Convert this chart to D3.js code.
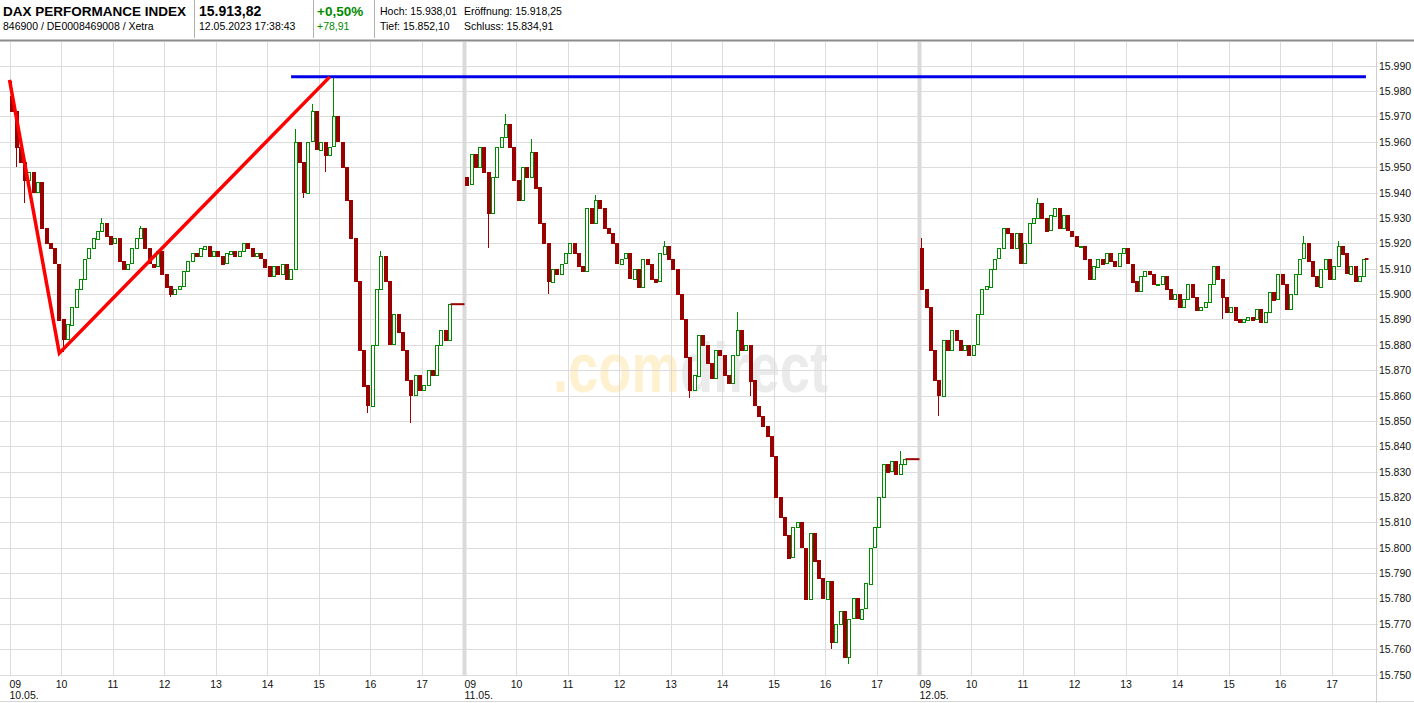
<!DOCTYPE html>
<html><head><meta charset="utf-8">
<script src="https://cdn.jsdelivr.net/npm/d3@7"></script>
<style>
body{margin:0;background:#fff;}
svg{display:block;font-family:"Liberation Sans",Arial,sans-serif;}
</style>
</head><body>
<svg id="c" width="1414" height="703"></svg>
<script>
// ---------- DATA ----------
const dayLabels = ["10.05.", "11.05.", "12.05."];
const hourLabels = ["09", "10", "11", "12", "13", "14", "15", "16", "17"];
const yTickValues = [15750,15760,15770,15780,15790,15800,15810,15820,15830,15840,15850,15860,15870,15880,15890,15900,15910,15920,15930,15940,15950,15960,15970,15980,15990];

const dayOpens = [15978, 15946, 15918.25];
// 5-minute candle closes from 09:00
const closesDay1 = [15972,15958,15952,15945,15948,15940,15944,15926,15920,15918,15912,15890,15882,15888,15895,15902,15906,15914,15918,15922,15925,15928,15923,15920,15922,15913,15910,15912,15918,15922,15926,15918,15912,15911,15917,15908,15903,15900,15902,15903,15909,15913,15916,15915,15918,15919,15915,15917,15915,15912,15916,15917,15915,15917,15920,15918,15915,15916,15914,15911,15907,15911,15908,15912,15906,15910,15960,15952,15940,15960,15972,15957,15960,15955,15958,15970,15960,15950,15937,15922,15905,15878,15864,15856,15880,15902,15915,15905,15880,15892,15885,15878,15866,15860,15868,15862,15864,15870,15868,15880,15886,15882,15896];
const closesDay2 = [15943,15955,15950,15958,15948,15932,15946,15958,15962,15967,15958,15945,15937,15950,15946,15956,15942,15928,15920,15905,15910,15908,15912,15916,15920,15916,15911,15909,15934,15928,15937,15934,15926,15924,15920,15912,15914,15916,15906,15910,15903,15914,15912,15906,15905,15916,15919,15914,15910,15900,15890,15875,15862,15868,15884,15880,15873,15867,15878,15876,15868,15865,15876,15886,15878,15880,15866,15856,15852,15848,15844,15836,15820,15812,15805,15796,15808,15810,15800,15780,15806,15795,15788,15780,15787,15763,15770,15775,15757,15772,15780,15772,15776,15786,15800,15808,15820,15833,15830,15834,15829,15833,15834.91];
const closesDay3 = [15902,15895,15878,15866,15860,15882,15878,15886,15882,15878,15880,15876,15880,15892,15902,15903,15910,15914,15918,15926,15924,15918,15924,15912,15920,15928,15930,15936,15930,15925,15931,15934,15926,15931,15925,15923,15919,15919,15914,15906,15911,15914,15912,15916,15913,15911,15916,15918,15912,15905,15901,15907,15909,15908,15904,15904,15907,15902,15898,15900,15895,15898,15904,15899,15894,15895,15897,15904,15911,15906,15899,15893,15895,15890,15889,15890,15891,15890,15894,15889,15893,15901,15898,15908,15904,15894,15900,15908,15914,15920,15913,15907,15903,15910,15914,15906,15911,15919,15916,15908,15911,15905,15907,15913.82];
// notable wick extremes: [candle index, value]
const wickHighs = [
  [[0,15984],[21,15930],[30,15927],[66,15965],[70,15975],[75,15985.5],[86,15917]],
  [[9,15971],[15,15961],[30,15939],[46,15921],[63,15893],[101,15838]],
  [[0,15922],[27,15938.01],[89,15923],[97,15921]]
];
const wickLows = [
  [[1,15950],[3,15936],[12,15877],[37,15899],[68,15938],[73,15948],[83,15853],[93,15849]],
  [[5,15918],[19,15900],[52,15859],[66,15860],[85,15760],[89,15754]],
  [[4,15852.1],[70,15890]]
];
const flatEnds = ["17:50", "17:50", "17:43"];

// annotations
const redTrend = [[0,"09:00",15984.4],[0,"09:58",15876.7],[0,"15:13",15985.6]];
const blueLevel = {value: 15985.6, from: [0,"14:28"], to: [2,"17:40"]};

// header
const header = {
  name: "DAX PERFORMANCE INDEX", ids: "846900 / DE0008469008 / Xetra",
  last: "15.913,82", time: "12.05.2023 17:38:43",
  pct: "+0,50%", abs: "+78,91",
  hoch: "Hoch: 15.938,01", open: "Eröffnung: 15.918,25",
  tief: "Tief: 15.852,10", schluss: "Schluss: 15.834,91"
};

// ---------- CHART ----------
const svg = d3.select("#c");
const MIN_PER_DAY = 530; // 09:00 - 17:50
const x = d3.scaleLinear().domain([0, 3 * MIN_PER_DAY]).range([9.5, 1374.5]);
const y = d3.scaleLinear().domain([15750, 15990]).range([674.6, 65.7]);
const tm = (d, t) => { const [h, m] = t.split(":").map(Number); return d * MIN_PER_DAY + (h - 9) * 60 + m; };

const plotTop = 42, plotBottom = 676, axisX = 1376;

// watermark
const wm = svg.append("text")
  .attr("transform", "translate(553,392) scale(1,1.3)")
  .attr("font-size", 54).attr("font-weight", "bold")
  .attr("textLength", 275).attr("lengthAdjust", "spacingAndGlyphs");
wm.append("tspan").attr("fill", "#fdf1cf").text(".com");
wm.append("tspan").attr("fill", "#ebebeb").text("direct");

// horizontal grid
svg.append("g").selectAll("line").data(yTickValues).join("line")
  .attr("x1", 0).attr("x2", axisX + 2)
  .attr("y1", d => Math.round(y(d)) + 0.5).attr("y2", d => Math.round(y(d)) + 0.5)
  .attr("stroke", "#dcdcdc");

// vertical grid
const vLines = [];
dayLabels.forEach((dl, d) => hourLabels.forEach((hl, h) => vLines.push({d, h, m: d * MIN_PER_DAY + h * 60})));
svg.append("g").selectAll("line").data(vLines).join("line")
  .attr("x1", v => Math.round(x(v.m)) + 0.5).attr("x2", v => Math.round(x(v.m)) + 0.5)
  .attr("y1", plotTop).attr("y2", plotBottom)
  .attr("stroke", v => (v.h === 0 && v.d > 0) ? "#dadada" : "#dcdcdc")
  .attr("stroke-width", v => (v.h === 0 && v.d > 0) ? 4 : 1);

// right axis line
svg.append("line").attr("x1", axisX + 0.5).attr("x2", axisX + 0.5).attr("y1", plotTop).attr("y2", 703).attr("stroke", "#cfcfcf");
// bottom lines
svg.append("line").attr("x1", 0).attr("x2", 1414).attr("y1", 701.5).attr("y2", 701.5).attr("stroke", "#d6d6d6");

// y labels
const fmt = v => d3.format(",")(v).replace(",", ".");
svg.append("g").selectAll("text").data(yTickValues).join("text")
  .attr("x", axisX + 3).attr("y", d => y(d) + 4)
  .attr("font-size", 10.5).attr("fill", "#111").text(fmt);

// x labels
svg.append("g").selectAll("text").data(vLines).join("text")
  .attr("x", v => v.h === 0 ? x(v.m) : x(v.m) + 0.5)
  .attr("y", 687.5).attr("text-anchor", v => v.h === 0 ? "start" : "middle")
  .attr("font-size", 10.5).attr("fill", "#111").text(v => hourLabels[v.h]);
svg.append("g").selectAll("text").data(dayLabels).join("text")
  .attr("x", (dl, d) => x(d * MIN_PER_DAY)).attr("y", 699)
  .attr("font-size", 10.5).attr("fill", "#111").text(dl => dl);

// candles
const allCloses = [closesDay1, closesDay2, closesDay3];
const candles = [];
allCloses.forEach((cl, d) => {
  const hi = new Map(wickHighs[d]), lo = new Map(wickLows[d]);
  cl.forEach((c, i) => {
    const o = i === 0 ? dayOpens[d] : cl[i - 1];
    const h = hi.has(i) ? hi.get(i) : Math.max(o, c);
    const l = lo.has(i) ? lo.get(i) : Math.min(o, c);
    candles.push({d, i, o, c, h, l, m: d * MIN_PER_DAY + i * 5 + 2});
  });
});
const UP = "#008a00", DOWN = "#990000";
const cg = svg.append("g").attr("shape-rendering", "crispEdges");
cg.selectAll("line.w").data(candles).join("line").attr("class", "w")
  .attr("x1", k => Math.round(x(k.m)) + 0.5).attr("x2", k => Math.round(x(k.m)) + 0.5)
  .attr("y1", k => y(k.h)).attr("y2", k => y(k.l))
  .attr("stroke", k => k.c >= k.o ? UP : DOWN);
cg.selectAll("rect").data(candles).join("rect")
  .attr("x", k => Math.round(x(k.m)) - 1)
  .attr("width", 3)
  .attr("y", k => Math.round(y(Math.max(k.o, k.c))))
  .attr("height", k => Math.max(1, Math.round(Math.abs(y(k.o) - y(k.c)))))
  .attr("fill", k => k.c >= k.o ? "#fff" : DOWN)
  .attr("stroke", k => k.c >= k.o ? UP : DOWN)
  .attr("stroke-width", 1);

// flat post-session lines
const flats = allCloses.map((cl, d) => ({d, v: cl[cl.length - 1], m0: d * MIN_PER_DAY + (cl.length - 1) * 5 + 2, m1: tm(d, flatEnds[d])}));
svg.append("g").selectAll("line").data(flats).join("line")
  .attr("x1", f => x(f.m0) + 1.5).attr("x2", f => x(f.m1))
  .attr("y1", f => y(f.v)).attr("y2", f => y(f.v))
  .attr("stroke", DOWN).attr("stroke-width", 2);

// annotations
svg.append("line")
  .attr("x1", x(tm(...blueLevel.from))).attr("x2", x(tm(...blueLevel.to)))
  .attr("y1", y(blueLevel.value)).attr("y2", y(blueLevel.value))
  .attr("stroke", "#0000e6").attr("stroke-width", 3);
svg.append("path")
  .datum(redTrend)
  .attr("d", d3.line().x(p => x(tm(p[0], p[1]))).y(p => y(p[2])))
  .attr("fill", "none").attr("stroke", "#ff0000").attr("stroke-width", 3.5).attr("stroke-linejoin", "miter");

// header
const hd = svg.append("g");
hd.append("rect").attr("x", 0).attr("y", 0).attr("width", 1414).attr("height", 40).attr("fill", "#fff");
hd.append("line").attr("x1", 0).attr("x2", 1414).attr("y1", 40.5).attr("y2", 40.5).attr("stroke", "#8a8a8a").attr("stroke-width", 2);
[194.5, 313.5, 374.5].forEach(px => hd.append("line").attr("x1", px).attr("x2", px).attr("y1", 0).attr("y2", 38).attr("stroke", "#b0b0b0"));
const t = (tx, ty, s, opts = {}) => hd.append("text").attr("x", tx).attr("y", ty).attr("font-size", opts.size || 10.5)
  .attr("font-weight", opts.bold ? "bold" : "normal").attr("fill", opts.fill || "#000").text(s);
t(3, 15.5, header.name, {size: 13.5, bold: true});
t(3, 29.5, header.ids);
t(199, 15.5, header.last, {size: 14, bold: true});
t(199, 29.5, header.time);
t(317, 15.5, header.pct, {size: 13.5, bold: true, fill: "#008a00"});
t(317, 29.5, header.abs, {fill: "#008a00"});
t(380, 15, header.hoch);
t(464, 15, header.open);
t(380, 29.5, header.tief);
t(464, 29.5, header.schluss);
</script>
</body></html>
